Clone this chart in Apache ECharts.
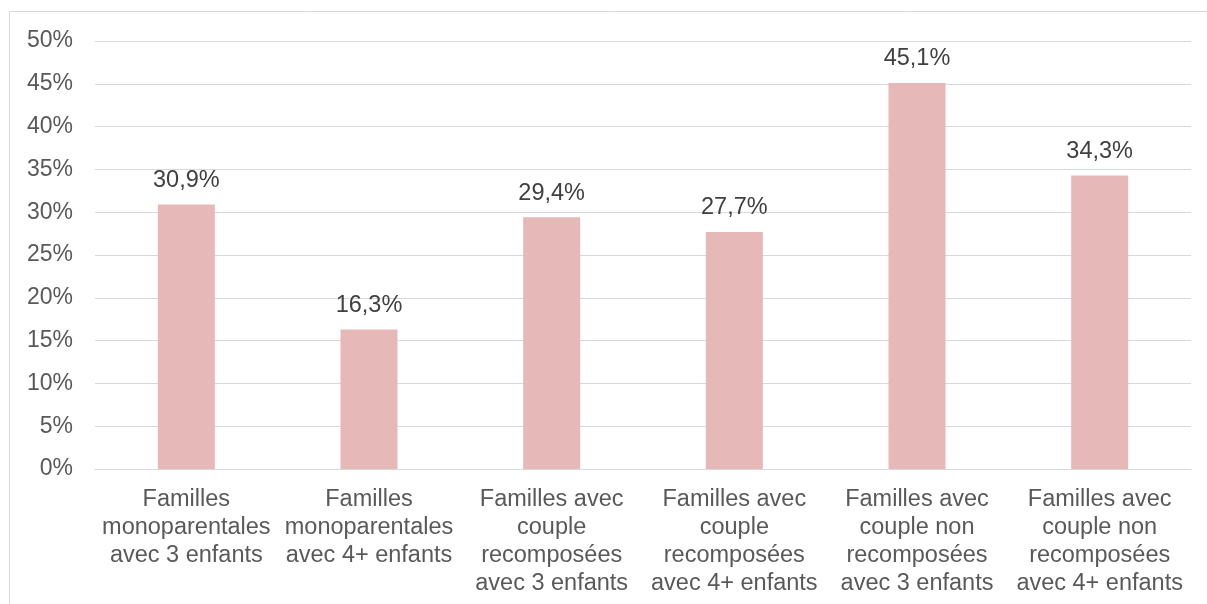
<!DOCTYPE html>
<html><head><meta charset="utf-8">
<script src="https://cdn.jsdelivr.net/npm/echarts@6/dist/echarts.min.js"></script>
<style>html,body{margin:0;padding:0;background:#fff}#c{width:1207px;height:604px}</style>
</head><body><div id="c"></div>
<script>
const categories = [
  "Familles\nmonoparentales\navec 3 enfants",
  "Familles\nmonoparentales\navec 4+ enfants",
  "Familles avec\ncouple\nrecomposées\navec 3 enfants",
  "Familles avec\ncouple\nrecomposées\navec 4+ enfants",
  "Familles avec\ncouple non\nrecomposées\navec 3 enfants",
  "Familles avec\ncouple non\nrecomposées\navec 4+ enfants"
];
const values = [30.9, 16.3, 29.4, 27.7, 45.1, 34.3];
const yMin = 0, yMax = 50, yStep = 5;

const chart = echarts.init(document.getElementById('c'), null, {renderer:'canvas'});
const font = '"Liberation Sans", Arial, sans-serif';
chart.setOption({
  animation: false,
  backgroundColor: '#fff',
  graphic: [{type:'rect', shape:{x:9.5, y:11.5, width:1220, height:620}, style:{fill:'none', stroke:'#d9d9d9', lineWidth:1}, silent:true}],
  grid: {left:95, right:16, top:41, bottom:135, containLabel:false},
  xAxis: {
    type:'category', data:categories,
    axisLine:{lineStyle:{color:'#d9d9d9', width:1}},
    axisTick:{show:false},
    axisLabel:{interval:0, color:'#595959', fontSize:23.5, fontFamily:font, lineHeight:28, margin:17}
  },
  yAxis: {
    type:'value', min:yMin, max:yMax, interval:yStep,
    axisLine:{show:false}, axisTick:{show:false},
    splitLine:{lineStyle:{color:'#d9d9d9', width:1}},
    axisLabel:{formatter: v => v + '%', color:'#595959', fontSize:23, fontFamily:font, margin:22}
  },
  series: [{
    type:'bar', data:values, barWidth:57,
    itemStyle:{color:'#e6b8b7'},
    label:{show:true, position:'top', distance:12, color:'#404040', fontSize:23.5, fontFamily:font,
      formatter: p => p.value.toFixed(1).replace('.', ',') + '%'}
  }]
});
</script></body></html>
